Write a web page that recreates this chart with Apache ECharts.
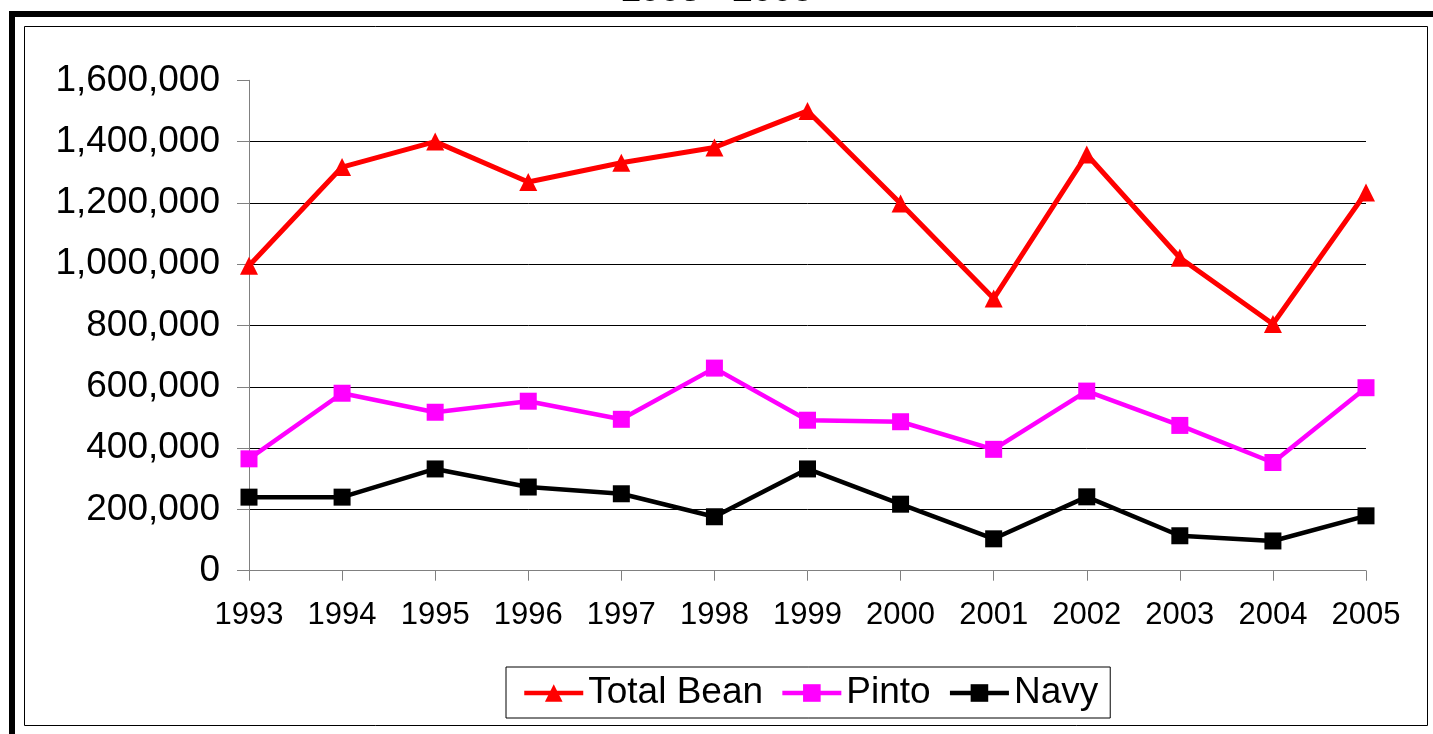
<!DOCTYPE html>
<html>
<head>
<meta charset="utf-8">
<style>
  html, body { margin: 0; padding: 0; background: #fff; }
  #chart { width: 1433px; height: 734px; }
</style>
<script src="https://cdn.jsdelivr.net/npm/echarts@6/dist/echarts.min.js"></script>
</head>
<body>
<div id="chart"></div>
<script>
const years = ['1993', '1994', '1995', '1996', '1997', '1998', '1999', '2000', '2001', '2002', '2003', '2004', '2005'];
const totalBean = [995000, 1317000, 1400000, 1268000, 1331000, 1381000, 1500000, 1198000, 888000, 1358000, 1021000, 805000, 1234000];
const pinto = [365000, 579000, 517000, 553000, 494000, 661000, 491000, 486000, 396000, 586000, 474000, 353000, 597000];
const navy = [240000, 240000, 332000, 273000, 251000, 176000, 332000, 217000, 104000, 241000, 114000, 97000, 179000];
const seriesNames = ['Total Bean', 'Pinto', 'Navy'];
const titleText = '1993 - 2005';

const FONT = '"Liberation Sans", Arial, sans-serif';
function fmt(v) { return String(v).replace(/\B(?=(\d{3})+(?!\d))/g, ','); }

const chart = echarts.init(document.getElementById('chart'));
chart.setOption({
  animation: false,
  backgroundColor: '#ffffff',
  title: {
    text: titleText,
    left: 'center',
    top: -27,
    padding: 0,
    textStyle: { fontFamily: FONT, fontSize: 36, fontWeight: 'bold', color: '#000' }
  },
  graphic: [
    { type: 'rect', shape: { x: 12, y: 14, width: 1500, height: 800 }, style: { fill: null, stroke: '#000', lineWidth: 6 }, z: 100 },
    { type: 'rect', shape: { x: 24.5, y: 26.5, width: 1403, height: 699 }, style: { fill: null, stroke: '#000', lineWidth: 1 }, z: 100 }
  ],
  legend: {
    data: seriesNames,
    left: 506,
    top: 667,
    orient: 'horizontal',
    backgroundColor: '#fff',
    borderColor: '#000',
    borderWidth: 1,
    padding: [6, 12, 5, 16],
    itemGap: 17,
    itemWidth: 59,
    itemHeight: 22,
    lineStyle: { width: 4.5 },
    textStyle: { fontFamily: FONT, fontSize: 37, color: '#000', lineHeight: 40 }
  },
  grid: { left: 249, right: 67, top: 80.3, bottom: 163.3, containLabel: false },
  xAxis: {
    type: 'category',
    data: years,
    boundaryGap: false,
    axisLine: { show: true, lineStyle: { color: '#808080', width: 1 } },
    axisTick: { show: true, length: 10, lineStyle: { color: '#808080' } },
    axisLabel: { fontFamily: FONT, fontSize: 31, color: '#000', margin: 29 },
    splitLine: { show: false }
  },
  yAxis: {
    type: 'value',
    min: 0,
    max: 1600000,
    interval: 200000,
    axisLine: { show: true, lineStyle: { color: '#808080', width: 1 } },
    axisTick: { show: true, length: 12, lineStyle: { color: '#808080' } },
    axisLabel: { fontFamily: FONT, fontSize: 37, color: '#000', margin: 29, formatter: fmt },
    splitLine: { show: true, showMinLine: false, showMaxLine: false, lineStyle: { color: '#000', width: 1 } }
  },
  series: [
    {
      name: seriesNames[0], type: 'line', data: totalBean,
      symbol: 'triangle', symbolSize: 18, showAllSymbol: true,
      lineStyle: { color: '#ff0000', width: 5 },
      itemStyle: { color: '#ff0000' }, z: 5
    },
    {
      name: seriesNames[1], type: 'line', data: pinto,
      symbol: 'rect', symbolSize: 17, showAllSymbol: true,
      lineStyle: { color: '#ff00ff', width: 4.5 },
      itemStyle: { color: '#ff00ff' }, z: 4
    },
    {
      name: seriesNames[2], type: 'line', data: navy,
      symbol: 'rect', symbolSize: 17, showAllSymbol: true,
      lineStyle: { color: '#000000', width: 4.5 },
      itemStyle: { color: '#000000' }, z: 3
    }
  ]
});
</script>
</body>
</html>
